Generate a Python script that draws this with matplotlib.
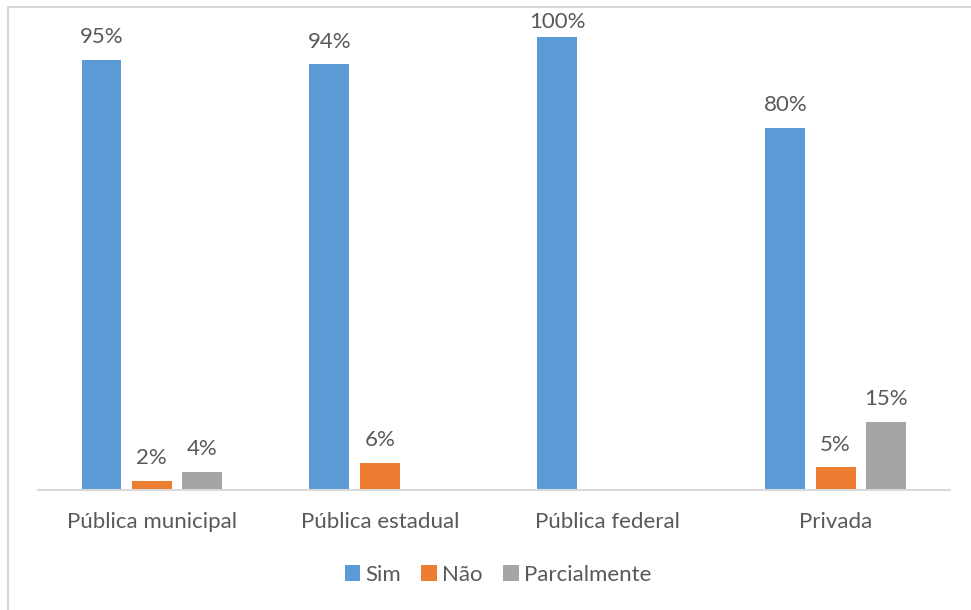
import numpy as np
import matplotlib.pyplot as plt
from matplotlib.patches import Rectangle

categorias = ['Pública municipal', 'Pública estadual', 'Pública federal', 'Privada']
series = ['Sim', 'Não', 'Parcialmente']
sim = [0.95, 0.94, 1.00, 0.80]
nao = [0.02, 0.06, None, 0.05]
parcial = [0.04, None, None, 0.15]
cores = ['#5B9BD5', '#ED7D31', '#A5A5A5']

plt.rcParams['font.family'] = ['Lato', 'DejaVu Sans']
texto = '#595959'

fig = plt.figure(figsize=(9.71, 6.10), dpi=100)
ax = fig.add_axes([0.039, 0.197, 0.939, 0.742])

x = np.arange(len(categorias))
largura = 0.175
passo = 0.221

for i, (nome, vals, cor) in enumerate(zip(series, [sim, nao, parcial], cores)):
    pos = x + (i - 1) * passo
    alturas = [v if v is not None else 0 for v in vals]
    barras = ax.bar(pos, alturas, width=largura, color=cor, label=nome)
    for b, v in zip(barras, vals):
        if v is None:
            continue
        # o Excel empurra o rótulo para baixo quando não cabe no topo
        y_rot = min(v + 0.028, 1.011)
        ax.text(b.get_x() + b.get_width() / 2, y_rot, f'{v * 100:.0f}%',
                ha='center', va='bottom', fontsize=16, color=texto)

ax.set_xlim(-0.5, len(categorias) - 0.5)
ax.set_ylim(0, 1)
ax.set_xticks(x)
ax.set_xticklabels(categorias, fontsize=16, color=texto)
ax.tick_params(axis='x', length=0, pad=16)
ax.set_yticks([])
for s in ['top', 'right', 'left']:
    ax.spines[s].set_visible(False)
ax.spines['bottom'].set_color('#D9D9D9')
ax.spines['bottom'].set_linewidth(1.5)

ax.legend(loc='center', bbox_to_anchor=(498 / 971, 1 - 575 / 610), bbox_transform=fig.transFigure,
          ncol=3, frameon=False, fontsize=16, labelcolor=texto,
          handlelength=0.7, handleheight=0.7, handletextpad=0.25, columnspacing=0.9)

fig.patches.append(Rectangle((8 / 971, -0.1), 1.2, 1 - 7 / 610 + 0.1, transform=fig.transFigure,
                             fill=False, edgecolor='#D9D9D9', linewidth=1.5))

fig.savefig('out.png', dpi=100, facecolor='white')
